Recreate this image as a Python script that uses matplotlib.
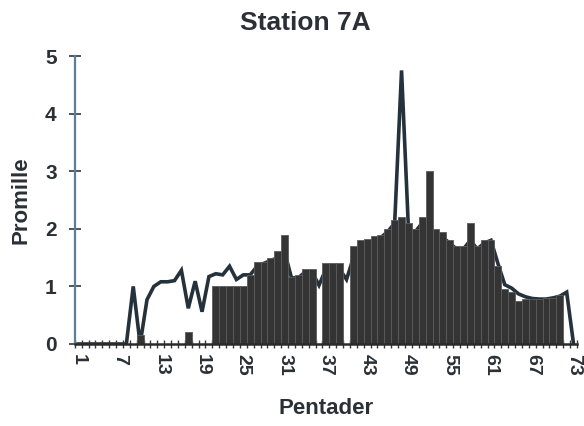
import matplotlib.pyplot as plt
import numpy as np

pentads = np.arange(1, 74)

# bar values per pentad (Promille)
bar_values = [
    0, 0, 0, 0, 0, 0, 0, 0, 0, 0.15,
    0, 0, 0, 0, 0, 0, 0.2, 0, 0, 0,
    1.0, 1.0, 1.0, 1.0, 1.0, 1.2, 1.42, 1.42, 1.5, 1.62,
    1.9, 1.17, 1.2, 1.3, 1.3, 0, 1.4, 1.4, 1.4, 0,
    1.7, 1.8, 1.82, 1.88, 1.9, 2.0, 2.15, 2.2, 2.1, 2.0,
    2.2, 3.0, 2.0, 1.95, 1.8, 1.7, 1.7, 2.1, 1.7, 1.8,
    1.8, 1.35, 0.95, 0.9, 0.74, 0.78, 0.78, 0.78, 0.8, 0.8,
    0.85, 0, 0,
]

# line values per pentad (Promille)
line_values = [
    0, 0, 0, 0, 0, 0, 0, 0, 1.0, 0.0,
    0.77, 1.0, 1.08, 1.08, 1.1, 1.28, 0.62, 1.09, 0.56, 1.17,
    1.22, 1.2, 1.35, 1.12, 1.2, 1.2, 1.35, 1.4, 1.45, 1.5,
    1.6, 1.15, 1.15, 1.25, 1.25, 1.02, 1.3, 1.35, 1.3, 1.12,
    1.5, 1.7, 1.75, 1.8, 1.85, 1.95, 2.1, 4.75, 2.0, 1.95,
    2.1, 2.0, 1.9, 1.85, 1.75, 1.65, 1.65, 1.8, 1.65, 1.75,
    1.8, 1.4, 1.03, 0.97, 0.87, 0.82, 0.79, 0.78, 0.78, 0.8,
    0.83, 0.9, 0.0,
]

tick_pentads = list(range(1, 74, 6))
y_ticks = [0, 1, 2, 3, 4, 5]

text_color = "#2a3035"
plt.rcParams["font.family"] = ["Liberation Sans", "DejaVu Sans"]

fig = plt.figure(figsize=(5.84, 4.26), dpi=100)
ax = fig.add_axes([0.128, 0.1925, 0.86, 0.676])

ax.plot(pentads, line_values, color="#25313b", linewidth=2.6, zorder=1,
        solid_joinstyle="miter")
ax.bar(pentads, bar_values, width=1.0, color="#343434",
       edgecolor="#5c5c5c", linewidth=0.6, zorder=2)

ax.set_xlim(0.5, 73.5)
ax.set_ylim(0, 5)

ax.spines["top"].set_visible(False)
ax.spines["right"].set_visible(False)
ax.spines["left"].set_color("#5b7f96")
ax.spines["left"].set_linewidth(1.6)
ax.spines["bottom"].set_color("#2a2a2a")
ax.spines["bottom"].set_linewidth(1.8)
ax.spines["bottom"].set_zorder(4)

ax.set_yticks(y_ticks)
ax.set_yticklabels([str(v) for v in y_ticks], fontsize=15, fontweight="bold",
                   color=text_color)
ax.tick_params(axis="y", direction="inout", length=8, width=1.4,
               color="#4a5560", pad=9)

# one tick per category boundary, labels every 6th pentad
ax.set_xticks(np.arange(0.5, 74, 1.0), minor=True)
ax.set_xticks(tick_pentads)
ax.set_xticklabels([str(p) for p in tick_pentads], rotation=-90,
                   fontsize=14, fontweight="bold", color=text_color)
ax.tick_params(axis="x", which="major", length=0, pad=7)
ax.tick_params(axis="x", which="minor", direction="inout", length=6,
               width=1.0, color="#3a3a3a")

# title is centred on the chart area, a bit left of the plot centre
fig.text(0.522, 0.945, "Station 7A", fontsize=19, fontweight="bold",
         color=text_color, ha="center", va="center")
ax.set_xlabel("Pentader", fontsize=16, fontweight="bold", color=text_color,
              labelpad=16)
ax.set_ylabel("Promille", fontsize=16, fontweight="bold", color=text_color,
              labelpad=10)

plt.savefig("out.png", dpi=100)
plt.close()
